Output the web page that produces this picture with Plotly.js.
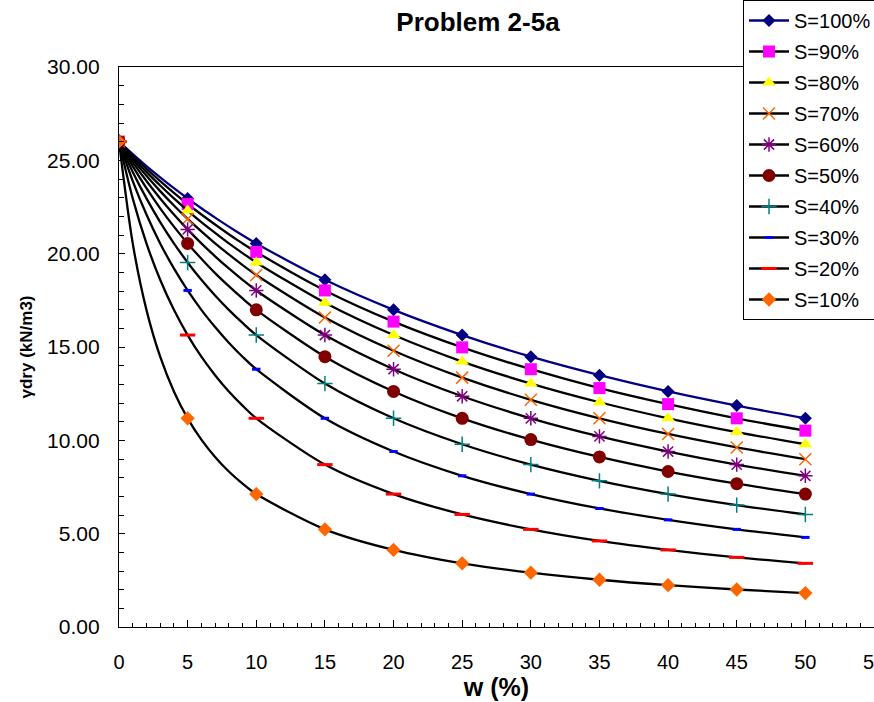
<!DOCTYPE html>
<html>
<head>
<meta charset="utf-8">
<script src="https://cdn.plot.ly/plotly-3.0.1.min.js"></script>
<style>html,body{margin:0;padding:0;background:#fff;}</style>
</head>
<body>
<div id="chart" style="width:874px;height:702px;"></div>
<script>
// water content w (%)
const W = [0,1,2,3,4,5,6,7,8,9,10,15,20,25,30,35,40,45,50];
// dry unit weight (kN/m3)
const S100 = [26.00,25.33,24.69,24.09,23.51,22.96,22.43,21.93,21.45,20.99,20.55,18.60,16.99,15.64,14.48,13.49,12.62,11.86,11.18];
const S90  = [26.00,25.26,24.55,23.89,23.26,22.66,22.10,21.56,21.04,20.55,20.09,18.03,16.36,14.98,13.81,12.80,11.94,11.18,10.52];
const S80  = [26.00,25.17,24.38,23.65,22.96,22.31,21.69,21.11,20.55,20.03,19.53,17.37,15.64,14.22,13.04,12.04,11.18,10.44,9.79];
const S70  = [26.00,25.05,24.17,23.35,22.58,21.86,21.19,20.55,19.96,19.39,18.86,16.58,14.80,13.36,12.17,11.18,10.34,9.62,8.99];
const S60  = [26.00,24.90,23.89,22.96,22.10,21.30,20.55,19.86,19.21,18.60,18.03,15.64,13.81,12.36,11.18,10.21,9.40,8.70,8.10];
const S50  = [26.00,24.69,23.51,22.43,21.45,20.55,19.73,18.96,18.26,17.60,16.99,14.48,12.62,11.18,10.04,9.11,8.33,7.68,7.12];
const S40  = [26.00,24.38,22.96,21.69,20.55,19.53,18.60,17.76,16.99,16.29,15.64,13.04,11.18,9.79,8.70,7.83,7.12,6.53,6.03];
const S30  = [26.00,23.89,22.10,20.55,19.21,18.03,16.99,16.07,15.23,14.48,13.81,11.18,9.40,8.10,7.12,6.35,5.74,5.23,4.80];
const S20  = [26.00,22.96,20.55,18.60,16.99,15.64,14.48,13.49,12.62,11.86,11.18,8.70,7.12,6.03,5.23,4.61,4.13,3.73,3.41];
const S10  = [26.00,20.55,16.99,14.48,12.62,11.18,10.04,9.11,8.33,7.68,7.12,5.23,4.13,3.41,2.91,2.53,2.24,2.01,1.82];
const seriesNames = ['S=100%','S=90%','S=80%','S=70%','S=60%','S=50%','S=40%','S=30%','S=20%','S=10%'];

const seriesData = [S100,S90,S80,S70,S60,S50,S40,S30,S20,S10];
const styles = [
  {line:'#000080', color:'#000080', symbol:'diamond', size:10},
  {line:'#000000', color:'#FF00FF', symbol:'square', size:12},
  {line:'#000000', color:'#FFFF00', symbol:'triangle-up', size:12},
  {line:'#000000', color:'#FF6600', symbol:'x-thin-open', size:12, lw:1.5},
  {line:'#000000', color:'#800080', symbol:'asterisk-open', size:12, lw:1.5},
  {line:'#000000', color:'#800000', symbol:'circle', size:13},
  {line:'#000000', color:'#008080', symbol:'cross-thin-open', size:11, lw:1.5},
  {line:'#000000', color:'#0000FF', symbol:'line-ew-open', size:6, lw:3},
  {line:'#000000', color:'#FF0000', symbol:'line-ew-open', size:11, lw:3},
  {line:'#000000', color:'#FF6600', symbol:'diamond', size:11}
];

const traces = seriesData.map((ys, i) => {
  const st = styles[i];
  const mcol = W.map(w => (w % 5 === 0) ? st.color : 'rgba(0,0,0,0)');
  const marker = {symbol: st.symbol, size: st.size, color: mcol};
  if (st.lw) marker.line = {width: st.lw};
  return {
    type:'scatter', mode:'lines+markers', name: seriesNames[i],
    legendgroup: 'g' + i,
    x: W, y: ys,
    line: {color: st.line, width: 2.3, shape:'spline', smoothing: 0.8},
    marker: marker,
    hoverinfo:'x+y+name'
  };
});

const layout = {
  width: 874, height: 702,
  margin: {l:119, r:0, t:67, b:75, pad:0, autoexpand:false},
  paper_bgcolor:'#ffffff', plot_bgcolor:'#ffffff',
  font: {family:'"Liberation Sans", Arial, sans-serif', color:'#000000'},
  showlegend: true,
  title: {
    text:'Problem 2-5a', font:{size:26, weight:'bold', color:'#000'},
    xref:'container', x: 478/874, xanchor:'center',
    yref:'container', y: 1 - 22/702, yanchor:'middle'
  },
  xaxis: {
    range:[0,55], tick0:0, dtick:5, autorange:false,
    ticks:'inside', ticklen:7, tickwidth:1, tickcolor:'#000',
    minor:{dtick:1, ticks:'inside', ticklen:4, tickcolor:'#000', tickwidth:1, showgrid:false},
    showline:true, linecolor:'#000', linewidth:1.2, mirror:true,
    showgrid:false, zeroline:false,
    tickfont:{size:20, color:'#000'},
    ticklabelstandoff: 17,
    ticklabeloverflow: 'allow',
    title:{text:'w (%)', font:{size:25, weight:'bold', color:'#000'}, standoff:4}
  },
  yaxis: {
    range:[0,30], tick0:0, dtick:5, autorange:false, tickformat:'.2f',
    ticks:'inside', ticklen:6, tickwidth:1, tickcolor:'#000',
    minor:{dtick:1, ticks:'inside', ticklen:5, tickcolor:'#000', tickwidth:1, showgrid:false},
    showline:true, linecolor:'#000', linewidth:1.2, mirror:true,
    showgrid:false, zeroline:false,
    tickfont:{size:21, color:'#000'},
    ticklabelstandoff: 14,
    title:{text:'γdry (kN/m3)', font:{size:17, weight:'bold', color:'#000'}, standoff:10}
  },
  legend: {
    xref:'container', yref:'container',
    x: 743/874, y: 1, xanchor:'left', yanchor:'top',
    bgcolor:'#ffffff', bordercolor:'#000000', borderwidth:1,
    font:{size:20, color:'#000'},
    itemwidth: 40, tracegroupgap: 2, traceorder:'grouped'
  }
};

Plotly.newPlot('chart', traces, layout, {displayModeBar:false, staticPlot:true});
</script>
</body>
</html>
